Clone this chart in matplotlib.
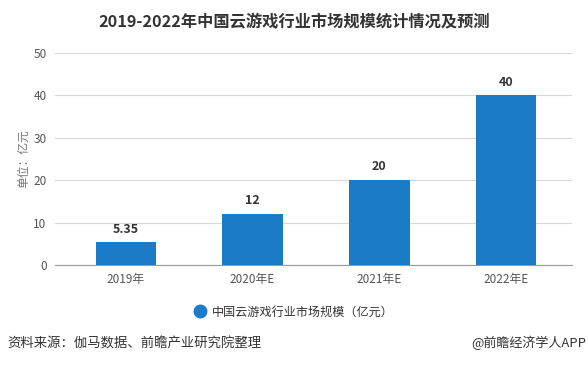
import matplotlib.pyplot as plt
from matplotlib.lines import Line2D

plt.rcParams['font.family'] = ['Noto Sans CJK SC', 'DejaVu Sans']

years = ['2019年', '2020年E', '2021年E', '2022年E']
values = [5.35, 12, 20, 40]
labels = ['5.35', '12', '20', '40']

fig = plt.figure(figsize=(5.88, 3.65), dpi=100)
ax = fig.add_axes([0.0935, 0.274, 0.879, 0.581])

bars = ax.bar(years, values, width=0.48, color='#1b7bc6', zorder=3)
for b, t in zip(bars, labels):
    ax.text(b.get_x() + b.get_width() / 2, b.get_height() + 1.6, t,
            ha='center', va='bottom', fontsize=9, fontweight='bold', color='#333333')

ax.set_ylim(0, 50)
ax.set_yticks(range(0, 51, 10))
ax.set_xlim(-0.56, 3.52)
ax.grid(axis='y', color='#d9d9d9', linewidth=0.8, zorder=0)
for s in ['top', 'right', 'left']:
    ax.spines[s].set_visible(False)
ax.spines['bottom'].set_color('#999999')
ax.tick_params(axis='both', length=0, labelsize=8.5, colors='#555555', pad=6)
ax.set_ylabel('单位：亿元', fontsize=8.5, color='#777777', labelpad=2)

fig.text(0.5, 0.94, '2019-2022年中国云游戏行业市场规模统计情况及预测',
         ha='center', va='center', fontsize=11.7, fontweight='bold', color='#333333')

# 图例用圆点
h = Line2D([], [], marker='o', linestyle='none', markersize=9,
           markerfacecolor='#1b7bc6', markeredgecolor='#1b7bc6')
leg = fig.legend(handles=[h], labels=['中国云游戏行业市场规模（亿元）'],
                 loc='center', bbox_to_anchor=(0.5, 0.145), frameon=False,
                 fontsize=8.7, handlelength=1.0, handletextpad=0.5)
for t in leg.get_texts():
    t.set_color('#333333')

fig.text(0.012, 0.06, '资料来源：伽马数据、前瞻产业研究院整理', ha='left', va='center',
         fontsize=9.6, color='#333333')
fig.text(0.997, 0.06, '@前瞻经济学人APP', ha='right', va='center',
         fontsize=9.4, color='#333333')

fig.savefig('out.png', dpi=100)
